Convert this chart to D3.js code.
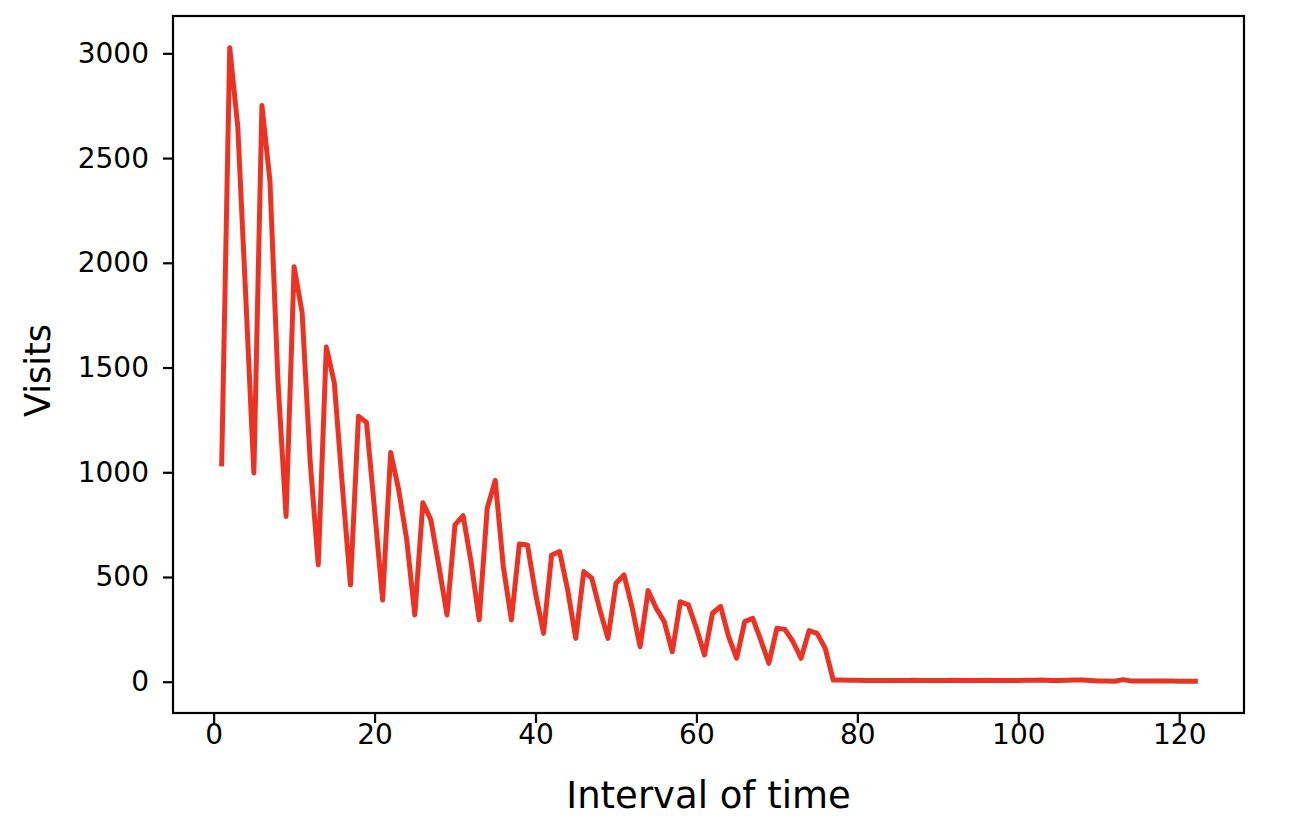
<!DOCTYPE html>
<html>
<head>
<meta charset="utf-8">
<script src="https://cdn.jsdelivr.net/npm/d3@7"></script>
<style>
  html, body { margin: 0; padding: 0; background: #fff; }
  svg { display: block; }
  text { font-family: "DejaVu Sans", sans-serif; fill: #000; }
</style>
</head>
<body>
<div id="chart"></div>
<script>
// Interval index (1..122)
const intervals = d3.range(1, 123);
// Visits per interval
const visits = [
  1040, 3027, 2650, 1830, 997, 2751, 2390, 1430, 789, 1981,
  1761, 1050, 558, 1598, 1426, 932, 462, 1267, 1238, 820,
  390, 1094, 916, 677, 319, 855, 773, 550, 319, 749,
  793, 570, 295, 829, 961, 550, 295, 658, 653, 422,
  231, 605, 621, 438, 207, 526, 494, 343, 207, 470,
  510, 355, 167, 435, 351, 287, 143, 382, 367, 255,
  128, 327, 360, 215, 112, 287, 303, 199, 88, 255,
  250, 191, 112, 244, 231, 160, 8, 8, 7, 7,
  6, 6, 6, 6, 6, 6, 7, 6, 6, 6,
  6, 7, 6, 6, 6, 7, 6, 6, 6, 6,
  7, 7, 8, 6, 6, 7, 8, 8, 6, 4,
  4, 2, 10, 4, 4, 4, 3, 4, 3, 2,
  2, 2
];
const xTicks = [0, 20, 40, 60, 80, 100, 120];
const yTicks = [0, 500, 1000, 1500, 2000, 2500, 3000];
const xLabel = "Interval of time";
const yLabel = "Visits";

const W = 1304, H = 828;
const margin = { left: 173, right: 60, top: 16, bottom: 115 };
const iw = W - margin.left - margin.right;
const ih = H - margin.top - margin.bottom;

const svg = d3.select("#chart").append("svg").attr("width", W).attr("height", H);
const g = svg.append("g").attr("transform", `translate(${margin.left},${margin.top})`);

const xMin = d3.min(intervals), xMax = d3.max(intervals);
const xPad = (xMax - xMin) * 0.05;
const x = d3.scaleLinear().domain([xMin - xPad, xMax + xPad]).range([0, iw]);
const yMin = d3.min(visits), yMax = d3.max(visits);
const yPad = (yMax - yMin) * 0.05;
const y = d3.scaleLinear().domain([yMin - yPad, yMax + yPad]).range([ih, 0]);

const line = d3.line().x((d, i) => x(intervals[i])).y(d => y(d));
g.append("path").datum(visits)
  .attr("d", line)
  .attr("fill", "none")
  .attr("stroke", "#ec3323")
  .attr("stroke-width", 5)
  .attr("stroke-linejoin", "round")
  .attr("stroke-linecap", "square");

const xAxis = g.append("g").attr("transform", `translate(0,${ih})`)
  .call(d3.axisBottom(x).tickValues(xTicks).tickSize(10).tickPadding(1).tickFormat(d3.format("d")));
const yAxis = g.append("g")
  .call(d3.axisLeft(y).tickValues(yTicks).tickSize(10).tickPadding(14).tickFormat(d3.format("d")));
[xAxis, yAxis].forEach(a => {
  a.select(".domain").remove();
  a.selectAll(".tick line").attr("stroke", "#000").attr("stroke-width", 2.2);
  a.selectAll(".tick text").attr("font-size", 28).attr("font-family", "DejaVu Sans, sans-serif").attr("fill", "#000");
});

g.append("rect").attr("x", 0).attr("y", 0).attr("width", iw).attr("height", ih)
  .attr("fill", "none").attr("stroke", "#000").attr("stroke-width", 2.2);

svg.append("text")
  .attr("x", margin.left + iw / 2).attr("y", 808)
  .attr("text-anchor", "middle").attr("font-size", 37)
  .text(xLabel);
svg.append("text")
  .attr("transform", `translate(50,${margin.top + ih / 2 + 6}) rotate(-90)`)
  .attr("text-anchor", "middle").attr("font-size", 35)
  .text(yLabel);
</script>
</body>
</html>
